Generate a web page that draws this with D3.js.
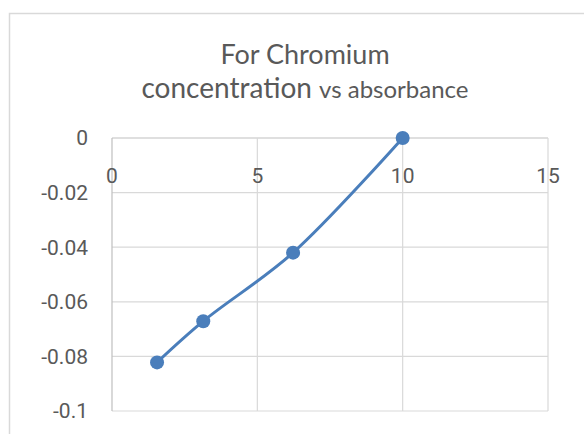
<!DOCTYPE html>
<html lang="en">
<head>
    <meta charset="UTF-8">
    <title>For Chromium concentration vs absorbance</title>
    <script src="https://d3js.org/d3.v7.min.js"></script>
    <style>
        body, html {
            margin: 0;
            padding: 0;
            width: 100%;
            height: 100%;
            overflow: hidden;
            background: #fff;
            font-family: Lato, "Open Sans", Arial, sans-serif;
        }
        .tick-label {
            font-family: "Liberation Sans Narrow", "Arial Narrow", Roboto, sans-serif;
            font-size: 21px;
            fill: #595959;
        }
    </style>
</head>
<body>
    <div id="chart"></div>
    <script>
        // data
        const concentration = [1.55, 3.14, 6.23, 10];
        const absorbance = [-0.0822, -0.0671, -0.042, 0];
        const xTicks = [0, 5, 10, 15];
        const yTicks = [0, -0.02, -0.04, -0.06, -0.08, -0.1];

        const width = 584, height = 434;
        const margin = {top: 138, right: 36, bottom: 23, left: 112};
        const innerWidth = width - margin.left - margin.right;
        const innerHeight = height - margin.top - margin.bottom;

        const svg = d3.select("#chart").append("svg")
            .attr("width", width)
            .attr("height", height);

        // chart frame
        svg.append("rect")
            .attr("x", 9.5).attr("y", 13.5)
            .attr("width", 600).attr("height", 450)
            .attr("fill", "none")
            .attr("stroke", "#d9d9d9")
            .attr("stroke-width", 1.5);

        // title (two lines, second one mixed sizes)
        const title = svg.append("text")
            .attr("text-anchor", "middle")
            .style("fill", "#595959");
        title.append("tspan")
            .attr("x", 305).attr("y", 64)
            .style("font-size", "27px")
            .text("For Chromium");
        const t2 = title.append("tspan")
            .attr("x", 305).attr("y", 98)
            .style("font-size", "28px")
            .text("concentration ");
        t2.append("tspan")
            .style("font-size", "24px")
            .text("vs absorbance");

        const g = svg.append("g")
            .attr("transform", `translate(${margin.left},${margin.top})`);

        const x = d3.scaleLinear().domain([0, 15]).range([0, innerWidth]);
        const y = d3.scaleLinear().domain([-0.1, 0]).range([innerHeight, 0]);

        // gridlines
        g.selectAll(".hgrid")
            .data(yTicks)
            .enter().append("line")
            .attr("x1", 0).attr("x2", innerWidth)
            .attr("y1", d => y(d)).attr("y2", d => y(d))
            .attr("stroke", d => d === 0 ? "#bfbfbf" : "#d9d9d9")
            .attr("stroke-width", 1.2);

        g.selectAll(".vgrid")
            .data(xTicks)
            .enter().append("line")
            .attr("x1", d => x(d)).attr("x2", d => x(d))
            .attr("y1", 0).attr("y2", innerHeight)
            .attr("stroke", d => d === 0 ? "#bfbfbf" : "#d9d9d9")
            .attr("stroke-width", 1.2);

        // tick labels
        g.selectAll(".ylabel")
            .data(yTicks)
            .enter().append("text")
            .attr("class", "tick-label")
            .attr("x", -24)
            .attr("y", d => y(d))
            .attr("dy", "0.35em")
            .attr("text-anchor", "end")
            .text(d => String(d));

        g.selectAll(".xlabel")
            .data(xTicks)
            .enter().append("text")
            .attr("class", "tick-label")
            .attr("x", d => x(d))
            .attr("y", 38)
            .attr("dy", "0.35em")
            .attr("text-anchor", "middle")
            .text(d => d);

        const points = concentration.map((c, i) => ({x: c, y: absorbance[i]}));

        const line = d3.line()
            .x(d => x(d.x))
            .y(d => y(d.y))
            .curve(d3.curveCatmullRom.alpha(0.5));

        g.append("path")
            .datum(points)
            .attr("fill", "none")
            .attr("stroke", "#4a7ebb")
            .attr("stroke-width", 3)
            .attr("d", line);

        g.selectAll(".dot")
            .data(points)
            .enter().append("circle")
            .attr("cx", d => x(d.x))
            .attr("cy", d => y(d.y))
            .attr("r", 7)
            .attr("fill", "#4a7ebb");
    </script>
</body>
</html>
